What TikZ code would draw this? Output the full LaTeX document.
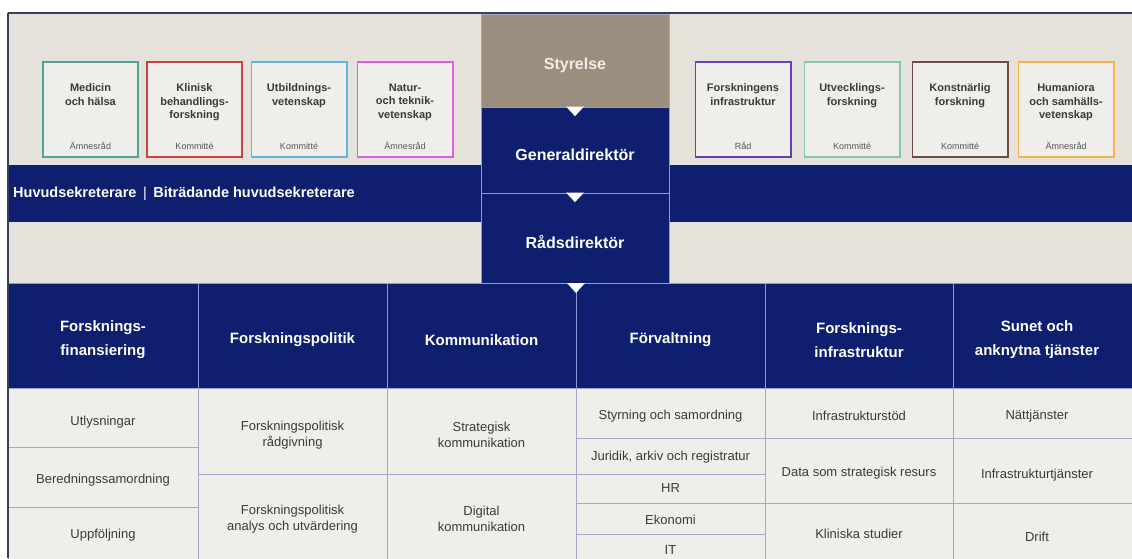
\documentclass[tikz,border=0pt]{standalone}
\usepackage{fontspec}
\setmainfont{Liberation Sans}
\usetikzlibrary{calc}
\definecolor{navy}{HTML}{0E1F6F}
\definecolor{bgbeige}{HTML}{E5E1DB}
\definecolor{cellbg}{HTML}{EFEEEB}
\definecolor{taupe}{HTML}{9A8E7F}
\definecolor{gridc}{HTML}{A3A8C8}
\definecolor{hdrline}{HTML}{8C9BD8}
\definecolor{framec}{HTML}{3B3E58}
\definecolor{celltext}{HTML}{3A3A3A}
\definecolor{lbltext}{HTML}{555555}
\definecolor{styretext}{HTML}{F2EEE6}
\definecolor{cTeal}{HTML}{4FA595}
\definecolor{cRed}{HTML}{C8453F}
\definecolor{cSky}{HTML}{5CB6E2}
\definecolor{cMagenta}{HTML}{E05CE6}
\definecolor{cPurple}{HTML}{6B3DB8}
\definecolor{cMint}{HTML}{86C6B1}
\definecolor{cBrown}{HTML}{6E4B45}
\definecolor{cOrange}{HTML}{F4B24C}
\tikzset{
  cbox/.style={line width=1.6pt, fill=cellbg, minimum width=95.4pt, minimum height=95.4pt, inner sep=0pt},
  ctitle/.style={anchor=north, align=center, inner sep=0pt, text=celltext, font=\bfseries\fontsize{11}{13.5}\selectfont},
  clabel/.style={anchor=center, inner sep=0pt, text=lbltext, font=\fontsize{9}{10}\selectfont},
  bigtext/.style={inner sep=0pt, text=white, font=\bfseries\fontsize{16}{19}\selectfont},
  hdrtext/.style={inner sep=0pt, align=center, text=white, font=\bfseries\fontsize{15}{24}\selectfont},
  celltxt/.style={inner sep=0pt, align=center, text=celltext, font=\fontsize{13}{16}\selectfont},
  navybox/.style={fill=navy, draw=hdrline, line width=0.8pt, inner sep=0pt},
  cellrect/.style={fill=cellbg, draw=gridc, line width=0.9pt},
  tri/.style={fill=white},
}
\newcommand\orgbox[6]{%
  \node[cbox, draw=#3] (#1) at (#2,109.5) {};
  \node[ctitle] (#1t) at (#2,83.5) {#4};
  \node[clabel] (#1l) at (#2,146) {#5};
}
\begin{document}
\begin{tikzpicture}[x=1pt,y=-1pt]
\useasboundingbox (0,0) rectangle (1132,558);
\fill[white] (0,0) rectangle (1132,558);
\fill[bgbeige] (8,13) rectangle (1132,283);
% committee boxes
\orgbox{b1}{90.5}{cTeal}{Medicin\\och hälsa}{Ämnesråd}{}
\orgbox{b2}{194.5}{cRed}{Klinisk\\behandlings-\\forskning}{Kommitté}{}
\orgbox{b3}{299}{cSky}{Utbildnings-\\vetenskap}{Kommitté}{}
\orgbox{b4}{405}{cMagenta}{Natur-\\och teknik-\\vetenskap}{Ämnesråd}{}
\orgbox{b5}{743}{cPurple}{Forskningens\\infrastruktur}{Råd}{}
\orgbox{b6}{852}{cMint}{Utvecklings-\\forskning}{Kommitté}{}
\orgbox{b7}{960}{cBrown}{Konstnärlig\\forskning}{Kommitté}{}
\orgbox{b8}{1066}{cOrange}{Humaniora\\och samhälls-\\vetenskap}{Ämnesråd}{}
% secretary band
\node[fill=navy, minimum width=473pt, minimum height=57pt, inner sep=0pt] (bandL) at (244.5,193.5) {};
\node[fill=navy, minimum width=463pt, minimum height=57pt, inner sep=0pt] (bandR) at (900.5,193.5) {};
\node[inner sep=0pt, anchor=west, text=white, font=\bfseries\fontsize{14.5}{16}\selectfont] (sek) at (13,194) {Huvudsekreterare\hspace{0.45em}{\mdseries|}\hspace{0.45em}Biträdande huvudsekreterare};
% central column
\node[fill=taupe, draw=gridc, line width=0.6pt, minimum width=188pt, minimum height=93pt, inner sep=0pt] (styr) at (575,60.5) {};
\node[bigtext, text=styretext] (styrt) at (575,65) {Styrelse};
\node[navybox, minimum width=188pt, minimum height=86pt] (gd) at (575,150) {};
\node[bigtext] (gdt) at (575,155) {Generaldirektör};
\node[navybox, minimum width=188pt, minimum height=90pt] (rd) at (575,238) {};
\node[bigtext] (rdt) at (575,242) {Rådsdirektör};
% header row
\node[navybox, minimum width=190pt, minimum height=105pt] (h1) at (103,335.5) {};
\node[navybox, minimum width=189pt, minimum height=105pt] (h2) at (292.5,335.5) {};
\node[navybox, minimum width=189pt, minimum height=105pt] (h3) at (481.5,335.5) {};
\node[navybox, minimum width=189pt, minimum height=105pt] (h4) at (670.5,335.5) {};
\node[navybox, minimum width=188pt, minimum height=105pt] (h5) at (859,335.5) {};
\node[navybox, minimum width=180pt, minimum height=105pt] (h6) at (1043,335.5) {};
\node[hdrtext] (h1t) at (103,340) {Forsknings-\\finansiering};
\node[hdrtext] (h2t) at (292.5,340) {Forskningspolitik};
\node[hdrtext] (h3t) at (481.5,340) {Kommunikation};
\node[hdrtext] (h4t) at (670.5,340) {Förvaltning};
\node[hdrtext] (h5t) at (859,340) {Forsknings-\\infrastruktur};
\node[hdrtext] (h6t) at (1037,340) {Sunet och\\anknytna tjänster};
% cells column 1
\draw[cellrect] (8,388) rectangle (198,447);
\draw[cellrect] (8,447) rectangle (198,507);
\draw[cellrect] (8,507) rectangle (198,560);
\node[celltxt] (c11) at (103,422) {Utlysningar};
\node[celltxt] (c12) at (103,480) {Beredningssamordning};
\node[celltxt] (c13) at (103,535) {Uppföljning};
% column 2
\draw[cellrect] (198,388) rectangle (387,474);
\draw[cellrect] (198,474) rectangle (387,560);
\node[celltxt] (c21) at (292.5,435) {Forskningspolitisk\\rådgivning};
\node[celltxt] (c22) at (292.5,519) {Forskningspolitisk\\analys och utvärdering};
% column 3
\draw[cellrect] (387,388) rectangle (576,474);
\draw[cellrect] (387,474) rectangle (576,560);
\node[celltxt] (c31) at (481.5,435) {Strategisk\\kommunikation};
\node[celltxt] (c32) at (481.5,519) {Digital\\kommunikation};
% column 4
\draw[cellrect] (576,388) rectangle (765,438);
\draw[cellrect] (576,438) rectangle (765,474);
\draw[cellrect] (576,474) rectangle (765,503);
\draw[cellrect] (576,503) rectangle (765,534);
\draw[cellrect] (576,534) rectangle (765,560);
\node[celltxt] (c41) at (670.5,416) {Styrning och samordning};
\node[celltxt] (c42) at (670.5,457) {Juridik, arkiv och registratur};
\node[celltxt] (c43) at (670.5,488) {HR};
\node[celltxt] (c44) at (670.5,519.5) {Ekonomi};
\node[celltxt] (c45) at (670.5,550) {IT};
% column 5
\draw[cellrect] (765,388) rectangle (953,438);
\draw[cellrect] (765,438) rectangle (953,503);
\draw[cellrect] (765,503) rectangle (953,560);
\node[celltxt] (c51) at (859,416) {Infrastrukturstöd};
\node[celltxt] (c52) at (859,473) {Data som strategisk resurs};
\node[celltxt] (c53) at (859,534) {Kliniska studier};
% column 6
\draw[cellrect] (953,388) rectangle (1134,438);
\draw[cellrect] (953,438) rectangle (1134,503);
\draw[cellrect] (953,503) rectangle (1134,560);
\node[celltxt] (c61) at (1037,416) {Nättjänster};
\node[celltxt] (c62) at (1037,475) {Infrastrukturtjänster};
\node[celltxt] (c63) at (1037,537) {Drift};
% triangles
\fill[tri] ($(gd.north)+(-9,0)$) -- ($(gd.north)+(9,0)$) -- ($(gd.north)+(0,9.5)$) -- cycle;
\fill[tri] ($(rd.north)+(-9,0)$) -- ($(rd.north)+(9,0)$) -- ($(rd.north)+(0,9.5)$) -- cycle;
\coordinate (tip) at (576,283);
\fill[tri] ($(tip)+(-9,0)$) -- ($(tip)+(9,0)$) -- ($(tip)+(0,10)$) -- cycle;
% frame
\draw[framec, line width=1.3pt] (8,13) -- (1132,13);
\draw[framec, line width=1.3pt] (8,13) -- (8,558);
\end{tikzpicture}
\end{document}
